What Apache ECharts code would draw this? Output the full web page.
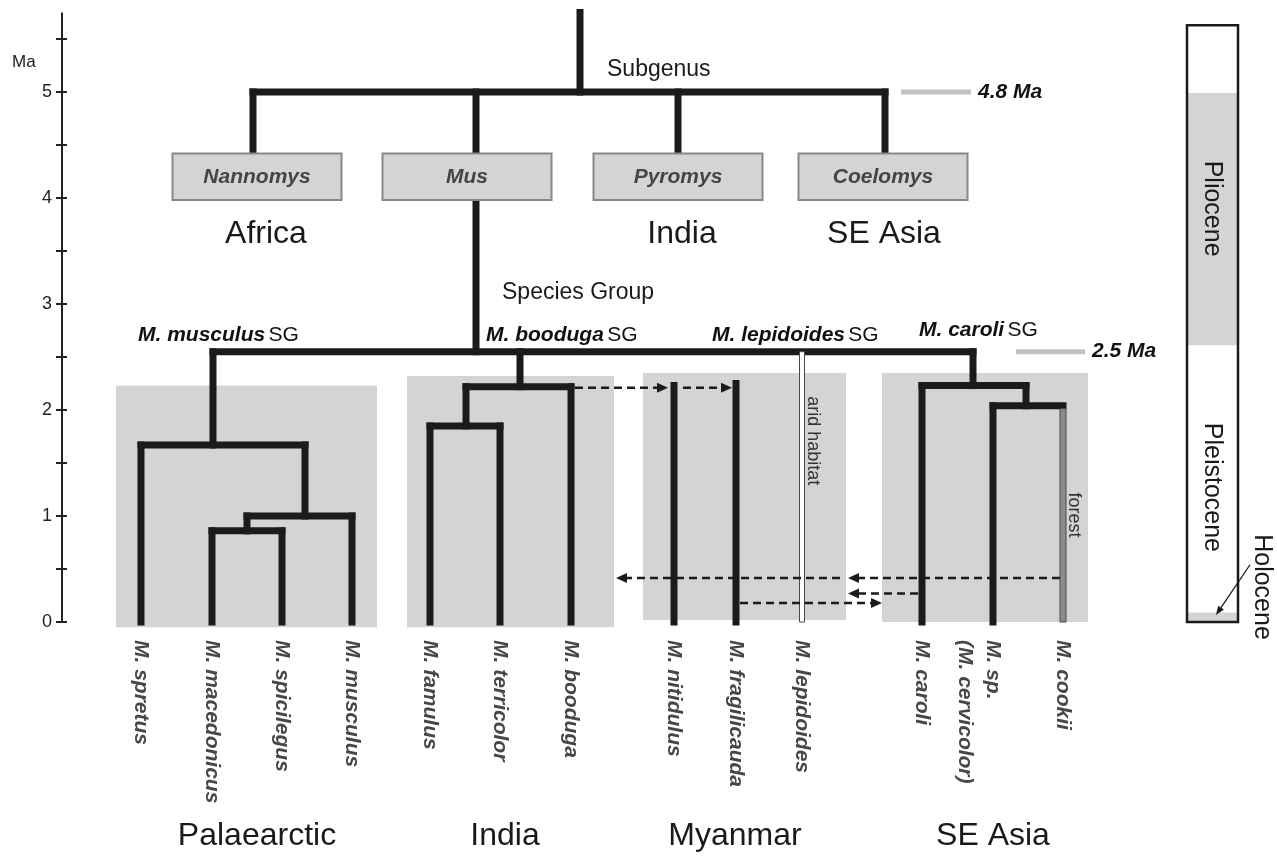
<!DOCTYPE html>
<html><head><meta charset="utf-8">
<script src="https://cdn.jsdelivr.net/npm/echarts@6/dist/echarts.min.js"></script>
<style>html,body{margin:0;padding:0;background:#fff}#c{width:1277px;height:857px}</style>
</head><body><div id="c"></div>
<script>
const FONT = '"Liberation Sans", Arial, Helvetica, sans-serif';

// ---------------- DATA ----------------
// Age axis (Ma)
const ageTicks = [0, 1, 2, 3, 4, 5];
const axisTopAge = 5.75;

// Leaves (tips): name, horizontal layout position, age of parent node, habitat type
const leafNames = ['M. spretus','M. macedonicus','M. spicilegus','M. musculus','M. famulus','M. terricolor','M. booduga','M. nitidulus','M. fragilicauda','M. lepidoides','M. caroli','M. sp.\n(M. cervicolor)','M. cookii'];
const leafX     = [141, 212, 282, 352, 430, 500, 571, 674, 736, 802, 922, 993, 1063];
const leafTop   = [1.67, 0.86, 0.86, 1.0, 1.85, 1.85, 2.22, 2.23, 2.25, 2.55, 2.23, 2.04, 2.04];
const leafKind  = ['n','n','n','n','n','n','n','n','n','arid','n','n','forest'];
const habitatLabelAge = {arid: 1.71, forest: 1.01};

// Internal vertical branches: x, older age, younger age
const stemX      = [580, 253, 476, 678, 885, 476, 213, 305, 247, 520, 466, 973, 1026];
const stemOlder  = [5.75, 5.0, 5.0, 5.0, 5.0, 3.98, 2.55, 1.67, 1.0, 2.55, 2.22, 2.55, 2.23];
const stemYounger= [5.0, 4.42, 4.42, 4.42, 4.42, 2.55, 1.67, 1.0, 0.86, 2.22, 1.85, 2.23, 2.04];

// Node (horizontal) connectors: left x, right x, node age
const nodeLeft  = [253, 213, 141, 247, 212, 466, 430, 922, 993];
const nodeRight = [885, 973, 305, 352, 282, 571, 500, 1026, 1063];
const nodeAge   = [5.0, 2.55, 1.67, 1.0, 0.86, 2.22, 1.85, 2.23, 2.04];

// Subgenera boxes
const subgenusNames = ['Nannomys', 'Mus', 'Pyromys', 'Coelomys'];
const subgenusX     = [257, 467, 678, 883];
const subgenusOlder = 4.42, subgenusYounger = 3.98;

// Subgenus regions
const subRegionNames = ['Africa', 'India', 'SE Asia'];
const subRegionX     = [266, 682, 884];

// Species-group regions (shaded)
const regionNames   = ['Palaearctic', 'India', 'Myanmar', 'SE Asia'];
const regionLeft    = [116, 407, 643, 882];
const regionRight   = [377, 614, 846, 1088];
const regionOlder   = [2.23, 2.32, 2.35, 2.35];
const regionYounger = [-0.05, -0.05, 0.02, 0.0];
const regionLabelX  = [257, 505, 735, 993];

// Species groups labels
const sgNames = ['M. musculus', 'M. booduga', 'M. lepidoides', 'M. caroli'];
const sgX     = [138, 486, 712, 919];
const sgAge   = [2.71, 2.71, 2.71, 2.75];

// Dispersal arrows: from x, to x, age
const dispFrom = [575, 683, 1060, 840, 918, 740];
const dispTo   = [668, 732, 848, 616, 848, 882];
const dispAge  = [2.21, 2.21, 0.415, 0.415, 0.27, 0.18];

// Calibration markers
const calibLabels = ['4.8 Ma', '2.5 Ma'];
const calibLeft   = [901, 1016];
const calibRight  = [971, 1085];
const calibAge    = [5.0, 2.55];

// Epoch bar
const epochNames   = ['Pliocene', 'Pleistocene', 'Holocene'];
const epochOlder   = [4.99, 2.61, 0.09];
const epochYounger = [2.61, 0.09, 0.0];
const epochShaded  = [1, 0, 1];
const epochFrame   = [1187, 1238, 5.63, 0];
const epochLabelX  = [1212, 1212, 1262];
const epochLabelAge= [3.9, 1.27, 0.33];

// ---------------- RENDER ----------------
const BLACK = '#1b1b1b';
const LW = 7;
const base = {type:'custom', coordinateSystem:'cartesian2d', clip:false, silent:true, animation:false};
function txt(x, y, text, opt){ return {type:'text', x, y, style:Object.assign({text, fontFamily:FONT, fill:'#1a1a1a'}, opt || {})}; }

const series = [];

// shaded regions
series.push(Object.assign({}, base, {z:1,
  data: regionLeft.map((l,i)=>[l, regionRight[i], regionOlder[i], regionYounger[i]]),
  encode:{x:[0,1], y:[2,3]},
  renderItem:(p, api)=>{
    const a = api.coord([api.value(0), api.value(2)]), b = api.coord([api.value(1), api.value(3)]);
    const lab = api.coord([regionLabelX[p.dataIndex], -2.02]);
    return {type:'group', children:[
      {type:'rect', shape:{x:a[0], y:a[1], width:b[0]-a[0], height:b[1]-a[1]}, style:{fill:'#d4d4d4'}},
      txt(lab[0], lab[1], regionNames[p.dataIndex], {fontSize:32, align:'center', verticalAlign:'middle'})
    ]};
  }}));

// stems
series.push(Object.assign({}, base, {z:3,
  data: stemX.map((x,i)=>[x, stemOlder[i], stemYounger[i]]),
  encode:{x:0, y:[1,2]},
  renderItem:(p, api)=>{
    const a = api.coord([api.value(0), api.value(1)]), b = api.coord([api.value(0), api.value(2)]);
    return {type:'line', shape:{x1:a[0], y1:a[1], x2:b[0], y2:b[1]}, style:{stroke:BLACK, lineWidth:LW, lineCap:'square'}};
  }}));

// node connectors
series.push(Object.assign({}, base, {z:3,
  data: nodeLeft.map((x,i)=>[x, nodeRight[i], nodeAge[i]]),
  encode:{x:[0,1], y:2},
  renderItem:(p, api)=>{
    const a = api.coord([api.value(0), api.value(2)]), b = api.coord([api.value(1), api.value(2)]);
    return {type:'line', shape:{x1:a[0], y1:a[1], x2:b[0], y2:b[1]}, style:{stroke:BLACK, lineWidth:LW, lineCap:'square'}};
  }}));

// leaves + labels
series.push(Object.assign({}, base, {z:4,
  data: leafX.map((x,i)=>[x, leafTop[i], 0]),
  encode:{x:0, y:[1,2]},
  renderItem:(p, api)=>{
    const i = p.dataIndex;
    const a = api.coord([api.value(0), api.value(1)]), b = api.coord([api.value(0), api.value(2)]);
    const kids = [];
    if (leafKind[i] === 'n') {
      kids.push({type:'line', shape:{x1:a[0], y1:a[1], x2:b[0], y2:b[1]}, style:{stroke:BLACK, lineWidth:LW, lineCap:'square'}});
    } else {
      const isArid = leafKind[i] === 'arid';
      const w = isArid ? 5 : 6, off = isArid ? 0 : 3;
      kids.push({type:'rect', shape:{x:a[0]-w/2, y:a[1]+off, width:w, height:b[1]-a[1]-off},
        style:{fill: isArid ? '#ffffff' : '#8c8c8c', stroke:'#4a4a4a', lineWidth:1}});
      const mid = api.coord([api.value(0), habitatLabelAge[leafKind[i]]]);
      const ht = txt(a[0]+11, mid[1], isArid ? 'arid habitat' : 'forest',
        {fontSize:18, fill:'#333', align:'center', verticalAlign:'middle'});
      ht.rotation = -Math.PI/2;
      kids.push(ht);
    }
    const t = txt(b[0]+14, b[1]+18, leafNames[i], {fontSize:21, fontWeight:'bold', fontStyle:'italic', fill:'#474747', align:'left', verticalAlign:'top', lineHeight:28});
    t.rotation = -Math.PI/2;
    kids.push(t);
    return {type:'group', children:kids};
  }}));

// subgenus boxes
series.push(Object.assign({}, base, {z:5,
  data: subgenusX.map(x=>[x, subgenusOlder, subgenusYounger]),
  encode:{x:0, y:[1,2]},
  renderItem:(p, api)=>{
    const i = p.dataIndex;
    const a = api.coord([api.value(0)-84.5, api.value(1)]), b = api.coord([api.value(0)+84.5, api.value(2)]);
    return {type:'group', children:[
      {type:'rect', shape:{x:a[0], y:a[1], width:b[0]-a[0], height:b[1]-a[1]}, style:{fill:'#d4d4d4', stroke:'#888', lineWidth:2}},
      txt((a[0]+b[0])/2, (a[1]+b[1])/2, subgenusNames[i], {fontSize:21, fontWeight:'bold', fontStyle:'italic', fill:'#454545', align:'center', verticalAlign:'middle'})
    ]};
  }}));

// subgenus region names
series.push(Object.assign({}, base, {z:5,
  data: subRegionX.map(x=>[x, 3.66]),
  encode:{x:0, y:1},
  renderItem:(p, api)=>{
    const a = api.coord([api.value(0), api.value(1)]);
    return txt(a[0], a[1], subRegionNames[p.dataIndex], {fontSize:32, align:'center', verticalAlign:'middle'});
  }}));

// species group labels
series.push(Object.assign({}, base, {z:5,
  data: sgX.map((x,i)=>[x, sgAge[i]]),
  encode:{x:0, y:1},
  renderItem:(p, api)=>{
    const a = api.coord([api.value(0), api.value(1)]);
    return txt(a[0], a[1], '{b|' + sgNames[p.dataIndex] + '} {r|SG}', {align:'left', verticalAlign:'middle',
      rich:{b:{fontSize:21, fontWeight:'bold', fontStyle:'italic', fontFamily:FONT, fill:'#111'}, r:{fontSize:21, fontFamily:FONT, fill:'#111'}}});
  }}));

// rank labels
const rankLabels = ['Subgenus', 'Species Group', 'Ma'];
const rankX = [607, 502, 12];
const rankAge = [5.21, 3.11, 5.28];
series.push(Object.assign({}, base, {z:5,
  data: rankX.map((x,i)=>[x, rankAge[i]]),
  encode:{x:0, y:1},
  renderItem:(p, api)=>{
    const a = api.coord([api.value(0), api.value(1)]);
    return txt(a[0], a[1], rankLabels[p.dataIndex], {fontSize: p.dataIndex===2 ? 17 : 23, align:'left', verticalAlign:'middle'});
  }}));

// dispersal arrows
series.push(Object.assign({}, base, {z:6,
  data: dispFrom.map((x,i)=>[x, dispTo[i], dispAge[i]]),
  encode:{x:[0,1], y:2},
  renderItem:(p, api)=>{
    const a = api.coord([api.value(0), api.value(2)]), b = api.coord([api.value(1), api.value(2)]);
    const d = Math.sign(b[0]-a[0]), h = 11, hw = 5;
    return {type:'group', children:[
      {type:'line', shape:{x1:a[0], y1:a[1], x2:b[0]-d*h, y2:b[1]}, style:{stroke:BLACK, lineWidth:2.5, lineDash:[8,5]}},
      {type:'polygon', shape:{points:[[b[0],b[1]],[b[0]-d*h,b[1]-hw],[b[0]-d*h,b[1]+hw]]}, style:{fill:BLACK}}
    ]};
  }}));

// calibration markers
series.push(Object.assign({}, base, {z:5,
  data: calibLeft.map((x,i)=>[x, calibRight[i], calibAge[i]]),
  encode:{x:[0,1], y:2},
  renderItem:(p, api)=>{
    const a = api.coord([api.value(0), api.value(2)]), b = api.coord([api.value(1), api.value(2)]);
    return {type:'group', children:[
      {type:'line', shape:{x1:a[0], y1:a[1], x2:b[0], y2:b[1]}, style:{stroke:'#c2c2c2', lineWidth:5}},
      txt(b[0]+7, b[1], calibLabels[p.dataIndex], {fontSize:21, fontWeight:'bold', fontStyle:'italic', fill:'#111', align:'left', verticalAlign:'middle'})
    ]};
  }}));

// epoch bar
series.push(Object.assign({}, base, {z:5,
  data: epochNames.map((n,i)=>[epochFrame[0], epochFrame[1], epochOlder[i], epochYounger[i]]),
  encode:{x:[0,1], y:[2,3]},
  renderItem:(p, api)=>{
    const i = p.dataIndex;
    const a = api.coord([api.value(0), api.value(2)]), b = api.coord([api.value(1), api.value(3)]);
    const kids = [];
    if (epochShaded[i]) kids.push({type:'rect', shape:{x:a[0], y:a[1], width:b[0]-a[0], height:b[1]-a[1]}, style:{fill:'#d4d4d4'}});
    const l = api.coord([epochLabelX[i], epochLabelAge[i]]);
    const t = txt(l[0], l[1], epochNames[i], {fontSize:25, fill:'#1a1a1a', align:'center', verticalAlign:'middle'});
    t.rotation = -Math.PI/2;
    kids.push(t);
    if (i === 0) {
      const f1 = api.coord([epochFrame[0], epochFrame[2]]), f2 = api.coord([epochFrame[1], epochFrame[3]]);
      kids.push({type:'rect', z2:10, shape:{x:f1[0], y:f1[1], width:f2[0]-f1[0], height:f2[1]-f1[1]}, style:{fill:'none', stroke:'#1a1a1a', lineWidth:2.5}});
    }
    if (i === 2) {
      const s = api.coord([1250, 0.54]), e = api.coord([1216, 0.065]);
      const ang = Math.atan2(e[1]-s[1], e[0]-s[0]), h = 9, w = 3.5;
      const bx = e[0]-h*Math.cos(ang), by = e[1]-h*Math.sin(ang);
      kids.push({type:'line', shape:{x1:s[0], y1:s[1], x2:bx, y2:by}, style:{stroke:'#1a1a1a', lineWidth:1.3}});
      kids.push({type:'polygon', shape:{points:[[e[0],e[1]],[bx - w*Math.sin(ang), by + w*Math.cos(ang)],[bx + w*Math.sin(ang), by - w*Math.cos(ang)]]}, style:{fill:'#1a1a1a'}});
    }
    return {type:'group', children:kids};
  }}));

// axis extension above last tick
series.push(Object.assign({}, base, {z:2,
  data: [[62, 5.5, axisTopAge]],
  encode:{x:0, y:[1,2]},
  renderItem:(p, api)=>{
    const a = api.coord([api.value(0), api.value(1)]), b = api.coord([api.value(0), api.value(2)]);
    return {type:'line', shape:{x1:a[0], y1:a[1], x2:b[0], y2:b[1]}, style:{stroke:'#222', lineWidth:2}};
  }}));

const yCommon = {type:'value', min:0, max:5.5, interval:0.5, position:'left', splitLine:{show:false}};
const option = {
  animation:false,
  backgroundColor:'#ffffff',
  grid:{left:62, right:0, top:39, bottom:235},
  xAxis:{type:'value', min:62, max:1277, show:false},
  yAxis:[
    Object.assign({}, yCommon, {
      axisLine:{show:true, lineStyle:{color:'#222', width:2}},
      axisTick:{show:true, length:6, lineStyle:{color:'#222', width:2}},
      axisLabel:{formatter:v => ageTicks.indexOf(v) >= 0 ? String(v) : '', color:'#222', fontSize:18, fontFamily:FONT, margin:10}
    }),
    Object.assign({}, yCommon, {
      axisLine:{show:false},
      axisTick:{show:true, inside:true, length:5, lineStyle:{color:'#222', width:2}},
      axisLabel:{show:false}
    })
  ],
  series
};
const chart = echarts.init(document.getElementById('c'));
chart.setOption(option);
</script>
</body></html>
